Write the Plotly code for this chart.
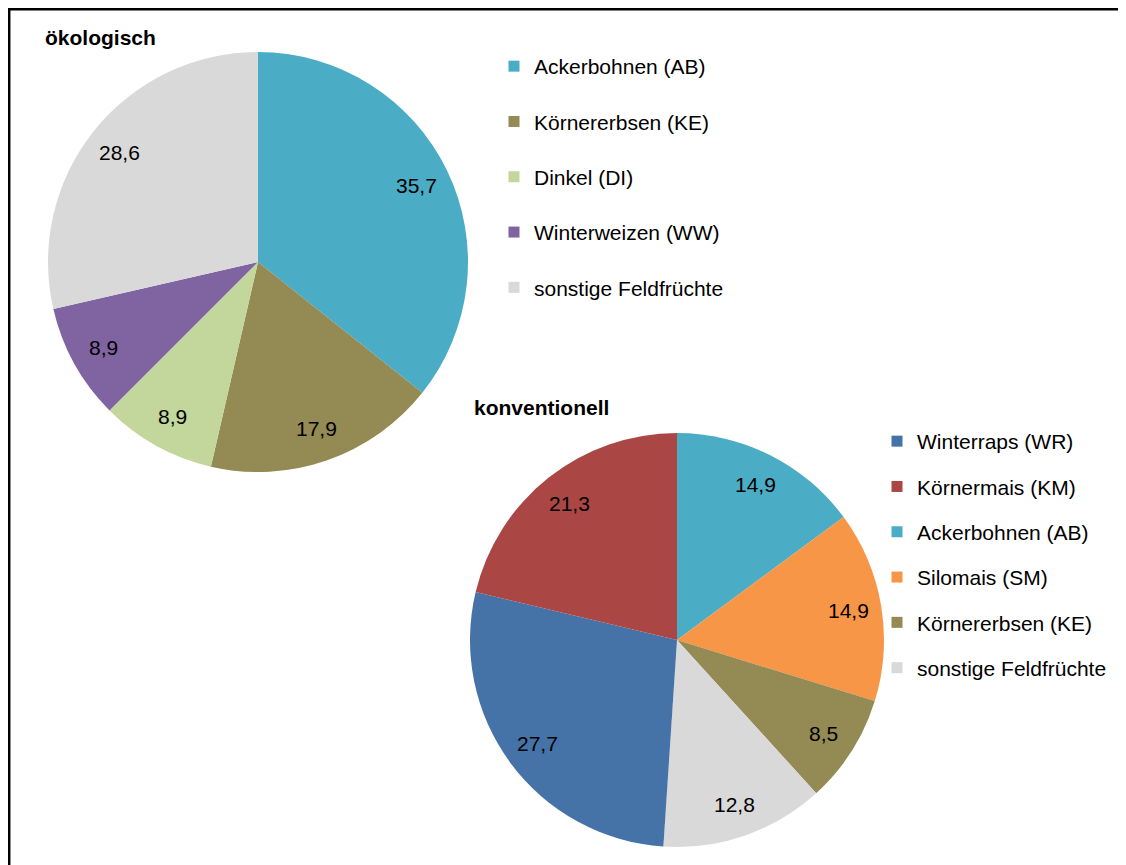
import math
import plotly.graph_objects as go

W, H = 1126, 865
OFF = 8  # page body margin
FW, FH = W - OFF, H - OFF  # figure size that fills the window

# ökologisch
oeko_labels = ["Ackerbohnen (AB)", "Körnererbsen (KE)", "Dinkel (DI)",
               "Winterweizen (WW)", "sonstige Feldfrüchte"]
oeko_values = [35.7, 17.9, 8.9, 8.9, 28.6]
oeko_colors = ["#4BACC6", "#948A54", "#C3D69B", "#8064A2", "#D9D9D9"]

# konventionell (slice order clockwise from 12 o'clock)
konv_labels = ["Ackerbohnen (AB)", "Silomais (SM)", "Körnererbsen (KE)",
               "sonstige Feldfrüchte", "Winterraps (WR)", "Körnermais (KM)"]
konv_values = [14.9, 14.9, 8.5, 12.8, 27.7, 21.3]
konv_colors = ["#4BACC6", "#F79646", "#948A54", "#D9D9D9", "#4572A7", "#AA4643"]
konv_legend_order = ["Winterraps (WR)", "Körnermais (KM)", "Ackerbohnen (AB)",
                     "Silomais (SM)", "Körnererbsen (KE)", "sonstige Feldfrüchte"]

FONT = "Arial, Liberation Sans, sans-serif"


def px(x):
    return (x - OFF) / FW


def py(y):
    return 1 - (y - OFF) / FH


def fmt(v):
    return f"{v:.1f}".replace(".", ",")


def slice_labels(values, cx, cy, r, frac=0.84):
    # value labels placed at the mid-angle of each slice (clockwise from top)
    total = sum(values)
    out = []
    cum = 0
    for v in values:
        mid = (cum + v / 2) / total * 2 * math.pi
        cum += v
        x = cx + math.sin(mid) * r * frac
        y = cy - math.cos(mid) * r * frac
        out.append(dict(text=fmt(v), x=px(x), y=py(y), xref="paper", yref="paper",
                        showarrow=False, xanchor="center", yanchor="middle",
                        font=dict(size=21, family=FONT, color="black")))
    return out


# pie boxes in page pixels: (left, top, right, bottom)
oeko_box = (48, 52, 468, 472)
konv_box = (470, 433, 884, 847)

fig = go.Figure()

for labels, values, colors, box in [(oeko_labels, oeko_values, oeko_colors, oeko_box),
                                    (konv_labels, konv_values, konv_colors, konv_box)]:
    fig.add_trace(go.Pie(
        labels=labels, values=values, textinfo="none",
        marker=dict(colors=colors, line=dict(width=0)),
        sort=False, direction="clockwise", showlegend=False,
        domain=dict(x=[px(box[0]), px(box[2])], y=[py(box[3]), py(box[1])]),
        hoverinfo="label+value",
    ))

# legend entries (square swatches)
for lab, col in zip(oeko_labels, oeko_colors):
    fig.add_trace(go.Scatter(
        x=[None], y=[None], mode="markers", name=lab, legend="legend",
        legendgroup="o_" + lab,
        marker=dict(symbol="square", size=11, color=col),
    ))

konv_color_map = dict(zip(konv_labels, konv_colors))
for lab in konv_legend_order:
    fig.add_trace(go.Scatter(
        x=[None], y=[None], mode="markers", name=lab, legend="legend2",
        legendgroup="k_" + lab,
        marker=dict(symbol="square", size=11, color=konv_color_map[lab]),
    ))

annotations = [
    dict(text="<b>ökologisch</b>", x=px(43), y=py(37), xref="paper", yref="paper",
         xanchor="left", yanchor="middle", showarrow=False,
         font=dict(size=21, family=FONT)),
    dict(text="<b>konventionell</b>", x=px(472), y=py(407), xref="paper", yref="paper",
         xanchor="left", yanchor="middle", showarrow=False,
         font=dict(size=21, family=FONT)),
]
for values, box in [(oeko_values, oeko_box), (konv_values, konv_box)]:
    cx = (box[0] + box[2]) / 2
    cy = (box[1] + box[3]) / 2
    r = (box[2] - box[0]) / 2
    annotations += slice_labels(values, cx, cy, r)

border = dict(color="black", width=2.5)

fig.update_layout(
    width=FW, height=FH,
    margin=dict(l=0, r=0, t=0, b=0),
    paper_bgcolor="white", plot_bgcolor="white",
    font=dict(family=FONT, size=21, color="black"),
    xaxis=dict(visible=False), yaxis=dict(visible=False),
    legend=dict(x=px(494), y=py(46), xanchor="left", yanchor="top",
                tracegroupgap=25, bgcolor="rgba(0,0,0,0)",
                font=dict(size=21, family=FONT)),
    legend2=dict(x=px(877), y=py(421), xanchor="left", yanchor="top",
                 tracegroupgap=15, bgcolor="rgba(0,0,0,0)",
                 font=dict(size=21, family=FONT)),
    annotations=annotations,
    shapes=[
        # frame: only top and left edges are inside the picture
        dict(type="line", xref="paper", yref="paper",
             x0=px(8), y0=py(9.2), x1=1, y1=py(9.2), line=border),
        dict(type="line", xref="paper", yref="paper",
             x0=px(9.2), y0=py(8), x1=px(9.2), y1=0, line=border),
    ],
)

fig.write_html("out.html")
